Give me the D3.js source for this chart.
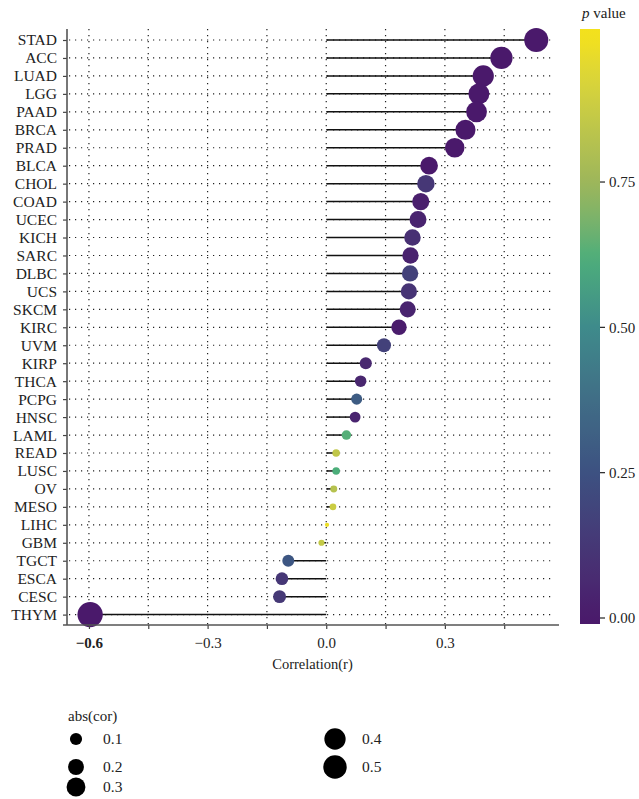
<!DOCTYPE html>
<meta charset="utf-8">
<style>
html, body {
  margin: 0;
  background: #fff;
}

.grid line {
  stroke: #222;
  stroke-width: 1.2px;
  stroke-dasharray: 1.2 4.8;
}

.stick {
  stroke: #111;
  stroke-width: 1.5px;
}

.axis-line {
  stroke: #555;
  stroke-width: 1.6px;
}
</style>

<svg></svg>

<script src="https://d3js.org/d3.v7.min.js"></script>
<script>

// Data
var categories = ['STAD', 'ACC', 'LUAD', 'LGG', 'PAAD', 'BRCA', 'PRAD', 'BLCA', 'CHOL',
  'COAD', 'UCEC', 'KICH', 'SARC', 'DLBC', 'UCS', 'SKCM', 'KIRC', 'UVM', 'KIRP', 'THCA',
  'PCPG', 'HNSC', 'LAML', 'READ', 'LUSC', 'OV', 'MESO', 'LIHC', 'GBM', 'TGCT', 'ESCA',
  'CESC', 'THYM'];

var correlation = [0.531, 0.443, 0.397, 0.386, 0.380, 0.352, 0.325, 0.260, 0.252,
  0.239, 0.232, 0.218, 0.213, 0.212, 0.209, 0.206, 0.184, 0.146, 0.100, 0.087,
  0.077, 0.073, 0.051, 0.025, 0.025, 0.019, 0.017, 0.002, -0.012, -0.096, -0.112,
  -0.118, -0.597];

var pValues = [0.00, 0.00, 0.00, 0.00, 0.00, 0.00, 0.00, 0.00, 0.12,
  0.02, 0.04, 0.09, 0.03, 0.17, 0.11, 0.04, 0.01, 0.17, 0.06, 0.05,
  0.30, 0.04, 0.63, 0.85, 0.62, 0.82, 0.88, 0.98, 0.86, 0.27, 0.12,
  0.13, 0.00];

var xTicks = [-0.6, -0.45, -0.3, -0.15, 0, 0.15, 0.3, 0.45];
var xLabels = ['\u22120.6', '', '\u22120.3', '', '0.0', '', '0.3', ''];
var colorTicks = [0, 0.25, 0.5, 0.75];
var colorStopValues = [0, 0.25, 0.5, 0.62, 0.75, 1];
var colorStops = ['#4a196b', '#3c5181', '#3e8b8b', '#4cae7a', '#9db65a', '#f3e11c'];
var sizeLegend = [0.1, 0.2, 0.3, 0.4, 0.5];

var width = 639, height = 799;
var panel = {left: 67, right: 558, top: 29, bottom: 625};
var serif = "'Liberation Serif', serif";

var svg = d3.select('svg')
  .attr('width', width)
  .attr('height', height);

var x = d3.scaleLinear().domain([-0.658, 0.586]).range([panel.left - 1, panel.right]);
var y = d3.scalePoint().domain(categories).range([40, 614.6]);
var color = d3.scaleLinear().domain(colorStopValues).range(colorStops)
  .interpolate(d3.interpolateLab).clamp(true);
var size = d3.scaleSqrt().domain([0, 0.6]).range([1.5, 12.7]);

// dotted grid
var grid = svg.append('g').attr('class', 'grid');
grid.selectAll('.gx').data(xTicks)
  .enter().append('line')
  .attr('x1', function (d) { return x(d); })
  .attr('x2', function (d) { return x(d); })
  .attr('y1', panel.top)
  .attr('y2', panel.bottom);
grid.selectAll('.gy').data(categories)
  .enter().append('line')
  .attr('x1', panel.left + 2)
  .attr('x2', panel.right - 6)
  .attr('y1', function (d) { return y(d); })
  .attr('y2', function (d) { return y(d); });

// lollipop sticks and dots
var rows = categories.map(function (c, i) {
  return {name: c, r: correlation[i], p: pValues[i]};
});

svg.append('g').selectAll('line').data(rows)
  .enter().append('line')
  .attr('class', 'stick')
  .attr('x1', x(0))
  .attr('x2', function (d) { return x(d.r); })
  .attr('y1', function (d) { return y(d.name); })
  .attr('y2', function (d) { return y(d.name); });

svg.append('g').selectAll('circle').data(rows)
  .enter().append('circle')
  .attr('cx', function (d) { return x(d.r); })
  .attr('cy', function (d) { return y(d.name); })
  .attr('r', function (d) { return size(Math.abs(d.r)); })
  .attr('fill', function (d) { return color(d.p); });

// axes
var yAxis = svg.append('g')
  .attr('transform', 'translate(' + panel.left + ',0)')
  .call(d3.axisLeft(y).tickSize(4).tickPadding(6));
yAxis.select('.domain').remove();
yAxis.selectAll('text').style('font-size', '15.5px');
yAxis.selectAll('line').attr('stroke', '#444').attr('stroke-width', 1.2);

var xAxis = svg.append('g')
  .attr('transform', 'translate(0,' + panel.bottom + ')')
  .call(d3.axisBottom(x).tickValues(xTicks).tickSize(4).tickPadding(8)
    .tickFormat(function (d, i) { return xLabels[i]; }));
xAxis.select('.domain').remove();
xAxis.selectAll('text').style('font-size', '15px')
  .style('font-weight', function (d, i) { return i === 0 ? 'bold' : 'normal'; });
xAxis.selectAll('line').attr('stroke', '#444').attr('stroke-width', 1.2);

svg.append('line').attr('class', 'axis-line')
  .attr('x1', panel.left).attr('x2', panel.left)
  .attr('y1', panel.top).attr('y2', panel.bottom);
svg.append('line').attr('class', 'axis-line')
  .attr('x1', 63).attr('x2', panel.right + 1)
  .attr('y1', panel.bottom).attr('y2', panel.bottom);

svg.append('text')
  .attr('x', (panel.left + panel.right) / 2)
  .attr('y', 669)
  .attr('text-anchor', 'middle')
  .style('font-size', '14.5px')
  .text('Correlation(r)');

// colour bar
var cy = d3.scaleLinear().domain([0, 1]).range([618, 36.7]);
var barTop = 29, barBottom = 624;
var grad = svg.append('defs').append('linearGradient')
  .attr('id', 'pgrad')
  .attr('x1', 0).attr('x2', 0).attr('y1', 1).attr('y2', 0);
d3.range(0, 1.0001, 0.025).forEach(function (t) {
  var v = cy.invert(barBottom + t * (barTop - barBottom));
  grad.append('stop').attr('offset', t).attr('stop-color', color(v));
});
svg.append('rect')
  .attr('x', 580).attr('y', barTop)
  .attr('width', 20).attr('height', barBottom - barTop)
  .attr('fill', 'url(#pgrad)');

var cbar = svg.append('g').selectAll('g').data(colorTicks)
  .enter().append('g')
  .attr('transform', function (d) { return 'translate(600,' + cy(d) + ')'; });
cbar.append('line').attr('x1', 0).attr('x2', 5).attr('stroke', '#222').attr('stroke-width', 1.2);
cbar.append('text').attr('x', 9).attr('dy', '0.35em')
  .style('font-size', '15px')
  .text(function (d) { return d3.format('.2f')(d); });

var ptitle = svg.append('text').attr('x', 582).attr('y', 18).style('font-size', '15px');
ptitle.append('tspan').style('font-style', 'italic').text('p');
ptitle.append('tspan').text(' value');

// size legend
svg.append('text').attr('x', 68).attr('y', 721).style('font-size', '15px').text('abs(cor)');
var legPos = [[76, 739], [76, 767], [76, 787], [335, 739], [335, 767]];
var leg = svg.append('g').selectAll('g').data(sizeLegend)
  .enter().append('g')
  .attr('transform', function (d, i) { return 'translate(' + legPos[i][0] + ',' + legPos[i][1] + ')'; });
leg.append('circle').attr('r', function (d) { return size(d); }).attr('fill', '#000');
leg.append('text').attr('x', 27).attr('dy', '0.35em')
  .style('font-size', '15.5px')
  .text(function (d) { return d; });

// serif everywhere
svg.selectAll('text').style('font-family', serif).style('fill', '#222');

</script>
